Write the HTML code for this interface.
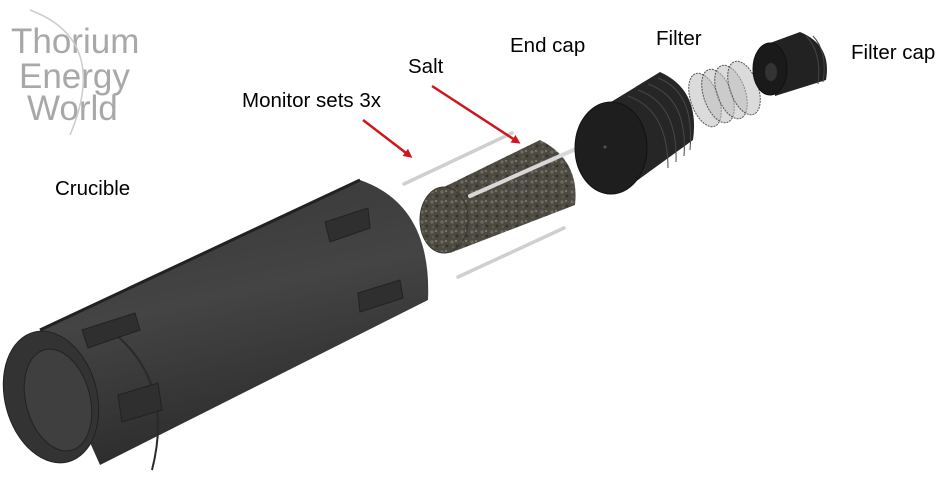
<!DOCTYPE html>
<html><head><meta charset="utf-8"><style>
html,body{margin:0;padding:0;background:#fff;}
svg{display:block;}
text{font-family:"Liberation Sans",Arial,sans-serif;}
</style></head><body>
<svg width="948" height="477" viewBox="0 0 948 477" xmlns="http://www.w3.org/2000/svg">
<defs>
<linearGradient id="cg" x1="0" y1="0" x2="0.3" y2="1">
<stop offset="0" stop-color="#363636"/><stop offset="0.5" stop-color="#444"/><stop offset="1" stop-color="#2c2c2c"/></linearGradient>
<pattern id="salt" width="10" height="10" patternUnits="userSpaceOnUse">
<rect width="10" height="10" fill="#4d4a42"/><circle cx="2" cy="2" r="1.6" fill="#6f6c62"/><circle cx="7" cy="6" r="1.4" fill="#33312c"/><circle cx="6" cy="1" r="1" fill="#858276"/><circle cx="3" cy="7" r="1.2" fill="#5f5c52"/></pattern>
<marker id="ah" markerWidth="9" markerHeight="9" refX="6" refY="4.5" orient="auto" markerUnits="userSpaceOnUse"><path d="M0,0 L9,4.5 L0,9 z" fill="#d0161c"/></marker>
</defs>
<!-- logo -->
<g fill="#a8a8a8" font-size="35">
<text x="11" y="53">Thorium</text>
<text x="19" y="88">Energy</text>
<text x="27" y="120">World</text>
</g>
<path d="M30,10 Q110,40 70,135" fill="none" stroke="#ccc" stroke-width="1.5"/>
<!-- labels -->
<g font-size="20.5" fill="#000">
<text x="55" y="195">Crucible</text>
<text x="242" y="107">Monitor sets 3x</text>
<text x="408" y="73">Salt</text>
<text x="510" y="52">End cap</text>
<text x="656" y="45">Filter</text>
<text x="851" y="59">Filter cap</text>
</g>
<!-- crucible -->
<path d="M40,330 L360,180 Q432,205 428,300 L100,465 Z" fill="url(#cg)"/>
<path d="M40,330 L360,180" stroke="#222" stroke-width="3"/>
<path d="M110,330 Q175,380 152,470" fill="none" stroke="#2a2a2a" stroke-width="2"/>
<ellipse cx="51" cy="397" rx="46" ry="67" fill="#333" stroke="#222" transform="rotate(-15 51 397)"/>
<ellipse cx="58" cy="400" rx="32" ry="52" fill="#3f3f3f" stroke="#222" transform="rotate(-15 58 400)"/>
<g fill="#2f2f2f" stroke="#222">
<polygon points="82,330 135,313 140,330 88,348"/>
<polygon points="118,395 158,383 162,410 122,422"/>
<polygon points="325,222 368,208 370,228 330,242"/>
<polygon points="358,293 400,280 403,298 360,312"/>
</g>
<!-- rods -->
<g stroke="#cfcfcf" stroke-width="3.5" stroke-linecap="round">
<line x1="404" y1="184" x2="512" y2="133"/>
<line x1="458" y1="277" x2="564" y2="228"/>
</g>
<!-- salt -->
<path d="M444,187 L540,140 Q580,160 575,205 L450,253 Z" fill="url(#salt)"/>
<ellipse cx="444" cy="220" rx="24" ry="33" fill="url(#salt)" stroke="#3a3833"/>
<line x1="470" y1="196" x2="578" y2="148" stroke="#d8d8d8" stroke-width="4" stroke-linecap="round"/>
<!-- end cap -->
<path d="M611,102 L660,72 Q700,90 693,140 L620,193 Z" fill="#262626"/>
<g stroke="#474747" fill="none"><path d="M628,96 Q668,110 668,168"/><path d="M638,90 Q678,104 676,162"/><path d="M648,84 Q688,98 684,156"/><path d="M658,78 Q695,92 690,150"/></g>
<ellipse cx="611" cy="148" rx="36" ry="46" fill="#1e1e1e" stroke="#111"/>
<circle cx="605" cy="147" r="1.5" fill="#555"/>
<!-- springs -->
<g fill="#bdbdbd" fill-opacity="0.55" stroke="#555" stroke-dasharray="2,1">
<ellipse cx="705" cy="100" rx="14" ry="28" transform="rotate(-20 705 100)"/>
<ellipse cx="718" cy="96" rx="14" ry="28" transform="rotate(-20 718 96)"/>
<ellipse cx="731" cy="92" rx="14" ry="28" transform="rotate(-20 731 92)"/>
<ellipse cx="744" cy="88" rx="14" ry="28" transform="rotate(-20 744 88)"/>
</g>
<!-- filter cap -->
<path d="M770,43 L800,32 Q832,45 826,80 L775,96 Z" fill="#222"/>
<g stroke="#444" fill="none"><path d="M806,36 Q822,52 818,84"/><path d="M813,36 Q828,52 823,82"/></g>
<ellipse cx="770" cy="69" rx="17" ry="26" fill="#1a1a1a" stroke="#111"/>
<ellipse cx="771" cy="72" rx="6" ry="9" fill="#333"/>
<!-- arrows -->
<line x1="363" y1="120" x2="410" y2="156" stroke="#d0161c" stroke-width="2.5" marker-end="url(#ah)"/>
<line x1="432" y1="86" x2="518" y2="142" stroke="#d0161c" stroke-width="2.5" marker-end="url(#ah)"/>
</svg>
</body></html>
